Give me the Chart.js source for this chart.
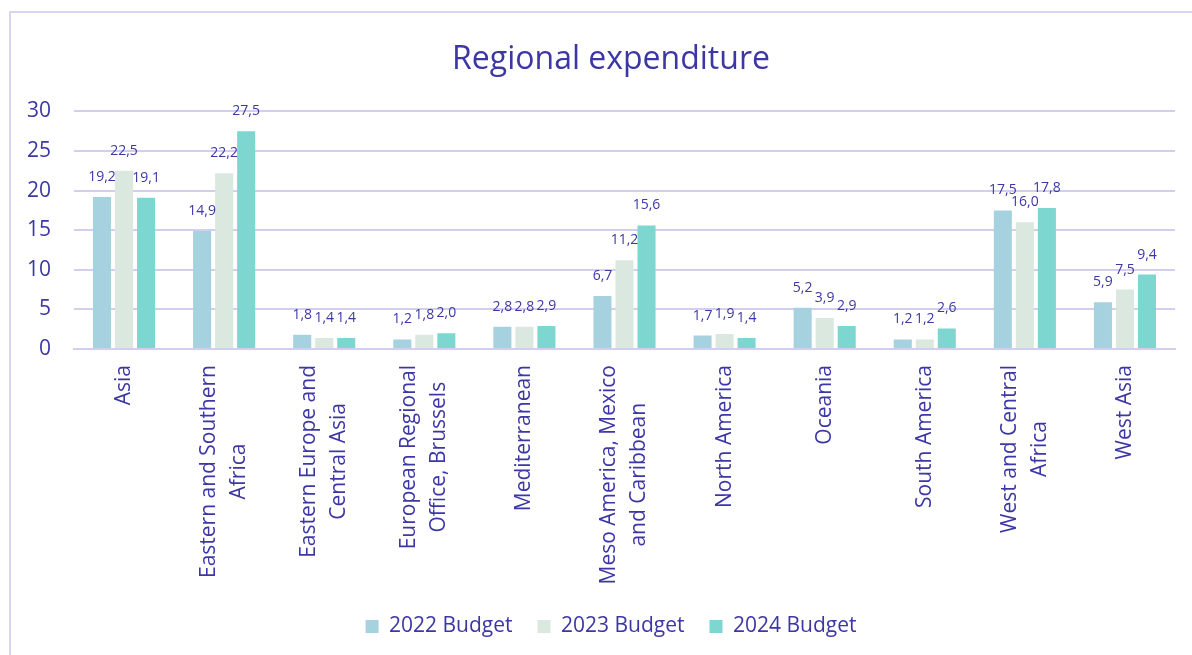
<!DOCTYPE html>
<html><head><meta charset="utf-8">
<script src="https://cdn.jsdelivr.net/npm/chart.js@4.4.1/dist/chart.umd.min.js"></script>
<style>
html,body{margin:0;padding:0;background:#fff;overflow:hidden;width:1192px;height:655px;}
#frame{position:absolute;left:9px;top:11px;width:1300px;height:800px;border:2px solid #D8D4F3;box-sizing:border-box;}
#c{position:absolute;left:0;top:0;}
</style></head><body>
<div id="frame"></div>
<canvas id="c" width="1222" height="655"></canvas>
<script>
const categories = [
  ["Asia"],
  ["Eastern and Southern", "Africa"],
  ["Eastern Europe and", "Central Asia"],
  ["European Regional", "Office, Brussels"],
  ["Mediterranean"],
  ["Meso America, Mexico", "and Caribbean"],
  ["North America"],
  ["Oceania"],
  ["South America"],
  ["West and Central", "Africa"],
  ["West Asia"]
];
const seriesNames = ["2022 Budget", "2023 Budget", "2024 Budget"];
const budget2022 = [19.2, 14.9, 1.8, 1.2, 2.8, 6.7, 1.7, 5.2, 1.2, 17.5, 5.9];
const budget2023 = [22.5, 22.2, 1.4, 1.8, 2.8, 11.2, 1.9, 3.9, 1.2, 16.0, 7.5];
const budget2024 = [19.1, 27.5, 1.4, 2.0, 2.9, 15.6, 1.4, 2.9, 2.6, 17.8, 9.4];
const yTicks = [0, 5, 10, 15, 20, 25, 30];

const TEXT = '#3C37A5';
const GRID = '#D3CEF0';
const COLORS = ['#A6D1DF', '#DAE8E0', '#7DD7D0'];
const FONT = 'Open Sans';

const dataLabelPlugin = {
  id: 'dataLabels',
  afterDatasetsDraw(chart) {
    const ctx = chart.ctx;
    ctx.save();
    ctx.font = '14px "' + FONT + '"';
    ctx.fillStyle = TEXT;
    ctx.textAlign = 'center';
    ctx.textBaseline = 'middle';
    chart.data.datasets.forEach((ds, di) => {
      const meta = chart.getDatasetMeta(di);
      meta.data.forEach((el, i) => {
        const v = ds.data[i];
        ctx.fillText(v.toFixed(1).replace('.', ','), el.x, el.y - 20);
      });
    });
    ctx.restore();
  }
};

const xLabelPlugin = {
  id: 'xLabels',
  afterDraw(chart) {
    const ctx = chart.ctx, xs = chart.scales.x;
    ctx.save();
    ctx.font = '21px "' + FONT + '"';
    ctx.fillStyle = TEXT;
    ctx.textAlign = 'center';
    ctx.textBaseline = 'middle';
    const top = xs.top + 16;
    categories.forEach((lines, i) => {
      const x = xs.getPixelForValue(i);
      const w = Math.max(...lines.map(l => ctx.measureText(l).width));
      ctx.save();
      ctx.translate(x, top);
      ctx.rotate(-Math.PI / 2);
      lines.forEach((l, j) => {
        ctx.fillText(l, -w / 2, (j - (lines.length - 1) / 2) * 30);
      });
      ctx.restore();
    });
    ctx.restore();
  }
};

function make() {
  new Chart(document.getElementById('c'), {
    type: 'bar',
    data: {
      labels: categories.map(l => l.join(' ')),
      datasets: [budget2022, budget2023, budget2024].map((d, i) => ({
        label: seriesNames[i],
        data: d,
        backgroundColor: COLORS[i],
        borderWidth: 0,
        categoryPercentage: 0.66,
        barPercentage: 0.82
      }))
    },
    options: {
      responsive: false,
      animation: false,
      layout: { padding: { left: 0, right: 0, top: 0, bottom: 8 } },
      plugins: {
        title: {
          display: true,
          text: 'Regional expenditure',
          color: TEXT,
          font: { family: FONT, size: 32, weight: 'normal' },
          padding: { top: 41, bottom: 32 }
        },
        legend: {
          position: 'bottom',
          labels: {
            color: TEXT,
            font: { family: FONT, size: 21 },
            boxWidth: 13,
            boxHeight: 13,
            padding: 25
          }
        },
        tooltip: { enabled: false }
      },
      scales: {
        x: {
          grid: { display: false, drawTicks: false },
          border: { display: true, color: GRID, width: 2 },
          ticks: { display: false },
          afterFit(s) { s.height = 242; }
        },
        y: {
          min: 0, max: 30,
          afterBuildTicks(s) { s.ticks = yTicks.map(v => ({ value: v })); },
          grid: { color: GRID, lineWidth: 2, drawTicks: false },
          border: { display: false },
          ticks: { color: TEXT, font: { family: FONT, size: 21 }, padding: 23 },
          afterFit(s) { s.width = 74; }
        },
        yRight: {
          position: 'right',
          min: 0, max: 30,
          grid: { display: false, drawTicks: false },
          border: { display: false },
          ticks: { display: false },
          afterFit(s) { s.width = 47; }
        }
      }
    },
    plugins: [dataLabelPlugin, xLabelPlugin]
  });
}
if (document.fonts && document.fonts.load) {
  Promise.all([document.fonts.load('21px "Open Sans"'), document.fonts.load('32px "Open Sans"')]).then(make, make);
} else { make(); }
</script>
</body></html>
